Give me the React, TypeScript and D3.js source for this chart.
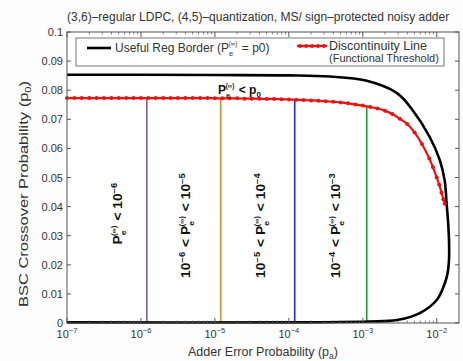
import React from "react";
import * as d3 from "d3";

const W = 463;
const H = 361;
const plotLeft = 67;
const plotTop = 32;
const plotWidth = 392;
const plotHeight = 291;

const xDomain: [number, number] = [1e-7, 2e-2];
const yDomain: [number, number] = [0, 0.1];
const xTickExps = [-7, -6, -5, -4, -3, -2];
const yTicks = [0, 0.01, 0.02, 0.03, 0.04, 0.05, 0.06, 0.07, 0.08, 0.09, 0.1];
const yTickLabels = ["0", "0.01", "0.02", "0.03", "0.04", "0.05", "0.06", "0.07", "0.08", "0.09", "0.1"];

const titleText = "(3,6)\u2013regular LDPC, (4,5)\u2013quantization, MS/ sign\u2013protected noisy adder";

// Useful region border (closed-ish loop: top branch then bottom branch)
const borderX = [1e-7, 1e-6, 1e-5, 1e-4, 3.6e-4, 1.1e-3, 2.9e-3, 4.7e-3, 8e-3, 1.1e-2, 1.28e-2, 1.36e-2, 1.43e-2, 1.47e-2, 1.46e-2, 1.4e-2, 1.28e-2, 1e-2, 5.9e-3, 2.9e-3, 1.2e-3, 1e-4, 1e-7];
const borderY = [0.0853, 0.0853, 0.0852, 0.0851, 0.0847, 0.0833, 0.079, 0.0732, 0.064, 0.056, 0.049, 0.041, 0.034, 0.027, 0.021, 0.017, 0.0135, 0.0079, 0.0034, 0.001, 0.0005, 0.0002, 0.0002];

// Discontinuity line (functional threshold)
const threshX = [
  1e-7, 1.26e-7, 1.58e-7, 2e-7, 2.51e-7, 3.16e-7, 3.98e-7, 5.01e-7, 6.31e-7, 7.94e-7,
  1e-6, 1.26e-6, 1.58e-6, 2e-6, 2.51e-6, 3.16e-6, 3.98e-6, 5.01e-6, 6.31e-6, 7.94e-6,
  1e-5, 1.26e-5, 1.58e-5, 2e-5, 2.51e-5, 3.16e-5, 3.98e-5, 5.01e-5, 6.31e-5, 7.94e-5,
  1e-4, 1.26e-4, 1.58e-4, 2e-4, 2.51e-4, 3.16e-4, 3.98e-4, 5.01e-4, 6.31e-4, 7.94e-4,
  1e-3, 1.26e-3, 1.58e-3, 2e-3, 2.51e-3, 3.16e-3, 3.98e-3, 5.01e-3, 6.31e-3, 7.94e-3,
  8.9e-3, 1e-2, 1.08e-2, 1.16e-2, 1.23e-2, 1.28e-2,
];
const threshY = [
  0.0773, 0.0773, 0.0773, 0.0773, 0.0773, 0.0773, 0.0773, 0.0773, 0.0773, 0.0773,
  0.0773, 0.0773, 0.0773, 0.0773, 0.0773, 0.0773, 0.0773, 0.0773, 0.0773, 0.0773,
  0.0772, 0.0772, 0.0772, 0.0772, 0.0771, 0.0771, 0.0771, 0.077, 0.077, 0.0769,
  0.0768, 0.0767, 0.0766, 0.0765, 0.0764, 0.0762, 0.076, 0.0758, 0.0755, 0.0751,
  0.0747, 0.0742, 0.0737, 0.0729, 0.0718, 0.0702, 0.0684, 0.0655, 0.0615, 0.0565,
  0.0535, 0.05, 0.0475, 0.0448, 0.0425, 0.041,
];

// Region separators
const regionX = [1.2e-6, 1.2e-5, 1.2e-4, 1.13e-3];
const regionTop = [0.0773, 0.0772, 0.0767, 0.0747];
const regionBottom = [0.0002, 0.0002, 0.0002, 0.0005];
const regionColors = ["#7e5f88", "#cf8f2a", "#2222ff", "#1f9a2c"];

// Region labels: [lowExp, highExp] (null = none)
const regionLow = [null, -6, -5, -4];
const regionHigh = [-6, -5, -4, -3];
const regionLabelX = [122, 190, 265, 340];
const regionLabelY = [213, 225, 225, 225];

const FONT = "'Liberation Sans', Arial, Helvetica, sans-serif";

function Pe({ size }: { size: number }) {
  const s = size * 0.62;
  return (
    <>
      <tspan>P</tspan>
      <tspan fontSize={s} dy={size * 0.3}>e</tspan>
      <tspan fontSize={s * 0.85} dx={-s * 0.6} dy={-size * 0.78}>(∞)</tspan>
      <tspan dy={size * 0.48}>{"\u200a"}</tspan>
    </>
  );
}

function Pow({ exp, size }: { exp: number; size: number }) {
  return (
    <>
      <tspan>10</tspan>
      <tspan fontSize={size * 0.68} dy={-size * 0.42}>{"\u2212" + Math.abs(exp)}</tspan>
      <tspan dy={size * 0.42}>{"\u200a"}</tspan>
    </>
  );
}

export default function App() {
  const x = d3.scaleLog().domain(xDomain).range([plotLeft, plotLeft + plotWidth]);
  const y = d3.scaleLinear().domain(yDomain).range([plotTop + plotHeight, plotTop]);

  const borderPts: [number, number][] = borderX.map((v, i) => [x(v), y(borderY[i])]);
  const threshPts: [number, number][] = threshX.map((v, i) => [x(v), y(threshY[i])]);
  const borderPath = d3.line().curve(d3.curveCatmullRom.alpha(0.5))(borderPts) || "";
  const threshPath = d3.line().curve(d3.curveCatmullRom.alpha(0.5))(threshPts) || "";

  const minorTicks: number[] = [];
  for (let e = -7; e <= -2; e++) {
    for (let m = 2; m <= 9; m++) {
      const v = m * Math.pow(10, e);
      if (v < xDomain[1] * 0.999) minorTicks.push(v);
    }
  }

  const axisColor = "#555";
  const textColor = "#333";
  const bottom = plotTop + plotHeight;
  const right = plotLeft + plotWidth;

  return (
    <svg width={W} height={H} style={{ position: "absolute", left: 0, top: 0, background: "#fff" }} fontFamily={FONT}>
      <rect x={0} y={0} width={W} height={H} fill="#fdfdfd" />
      <rect x={plotLeft} y={plotTop} width={plotWidth} height={plotHeight} fill="#fff" />

      {/* title */}
      <text x={67} y={21} fontSize={12} fill={textColor}>{titleText}</text>

      {/* region vertical lines */}
      {regionX.map((v, i) => (
        <line key={"r" + i} x1={x(v)} x2={x(v)} y1={y(regionBottom[i])} y2={y(regionTop[i])} stroke={regionColors[i]} strokeWidth={1.6} />
      ))}

      {/* border curve */}
      <path d={borderPath} fill="none" stroke="#000" strokeWidth={2.6} />

      {/* threshold */}
      <path d={threshPath} fill="none" stroke="#f01010" strokeWidth={2.2} />
      {threshPts.map((p, i) => (
        <circle key={"t" + i} cx={p[0]} cy={p[1]} r={2} fill="#f01010" />
      ))}

      {/* axes frame */}
      <rect x={plotLeft} y={plotTop} width={plotWidth} height={plotHeight} fill="none" stroke={axisColor} strokeWidth={1} />

      {/* x ticks */}
      {xTickExps.map((e) => {
        const px = x(Math.pow(10, e));
        return (
          <g key={"xt" + e}>
            <line x1={px} x2={px} y1={bottom} y2={bottom - 5} stroke={axisColor} />
            <line x1={px} x2={px} y1={plotTop} y2={plotTop + 5} stroke={axisColor} />
            <text x={px} y={338} textAnchor="middle" fontSize={11} fill={textColor}>
              <tspan>10</tspan>
              <tspan fontSize={7.5} dy={-5}>{"\u2212" + Math.abs(e)}</tspan>
            </text>
          </g>
        );
      })}
      {minorTicks.map((v, i) => (
        <g key={"mt" + i}>
          <line x1={x(v)} x2={x(v)} y1={bottom} y2={bottom - 2.5} stroke={axisColor} strokeWidth={0.7} />
          <line x1={x(v)} x2={x(v)} y1={plotTop} y2={plotTop + 2.5} stroke={axisColor} strokeWidth={0.7} />
        </g>
      ))}

      {/* y ticks */}
      {yTicks.map((t, i) => (
        <g key={"yt" + i}>
          <line x1={plotLeft} x2={plotLeft + 4} y1={y(t)} y2={y(t)} stroke={axisColor} />
          <line x1={right} x2={right - 4} y1={y(t)} y2={y(t)} stroke={axisColor} />
          <text x={63} y={y(t) + 4} textAnchor="end" fontSize={11} fill={textColor}>{yTickLabels[i]}</text>
        </g>
      ))}

      {/* axis labels */}
      <text x={263} y={356} textAnchor="middle" fontSize={12.5} fill={textColor}>
        <tspan>Adder Error Probability (p</tspan>
        <tspan fontSize={8.5} dy={3}>a</tspan>
        <tspan dy={-3}>)</tspan>
      </text>
      <text transform={`translate(28,194) rotate(-90) scale(1.32,1)`} textAnchor="middle" fontSize={12.5} fill={textColor}>
        <tspan>BSC Crossover Probability (p</tspan>
        <tspan fontSize={8.5} dy={3}>0</tspan>
        <tspan dy={-3}>)</tspan>
      </text>

      {/* legend */}
      <rect x={76} y={38} width={368} height={28} fill="#fff" stroke="#777" strokeWidth={1} />
      <line x1={87} x2={111} y1={48} y2={48} stroke="#000" strokeWidth={2.6} />
      <text x={115} y={52} fontSize={12} fill={textColor}>
        <tspan>Useful Reg Border (</tspan>
        <Pe size={12} />
        <tspan> = p0)</tspan>
      </text>
      <line x1={297} x2={327} y1={46} y2={46} stroke="#f01010" strokeWidth={2.2} />
      {[300, 306, 312, 318, 324].map((px) => (
        <circle key={"lm" + px} cx={px} cy={46} r={2} fill="#f01010" />
      ))}
      <text x={329} y={50} fontSize={12.5} fill={textColor}>Discontinuity Line</text>
      <text x={329} y={62} fontSize={11} fill={textColor}>(Functional Threshold)</text>

      {/* region labels */}
      <text x={218} y={94} fontSize={12} fontWeight="bold" fill="#111">
        <Pe size={12} />
        <tspan> &lt; p</tspan>
        <tspan fontSize={8} dy={3}>0</tspan>
      </text>
      {regionHigh.map((hi, i) => {
        const lo = regionLow[i];
        return (
          <text
            key={"rl" + i}
            transform={`translate(${regionLabelX[i]},${regionLabelY[i]}) rotate(-90) scale(1.15,1)`}
            textAnchor="middle"
            fontSize={12}
            fontWeight="bold"
            fill="#111"
          >
            {lo !== null && <Pow exp={lo} size={12} />}
            {lo !== null && <tspan> &lt; </tspan>}
            <Pe size={12} />
            <tspan> &lt; </tspan>
            <Pow exp={hi} size={12} />
          </text>
        );
      })}
    </svg>
  );
}
